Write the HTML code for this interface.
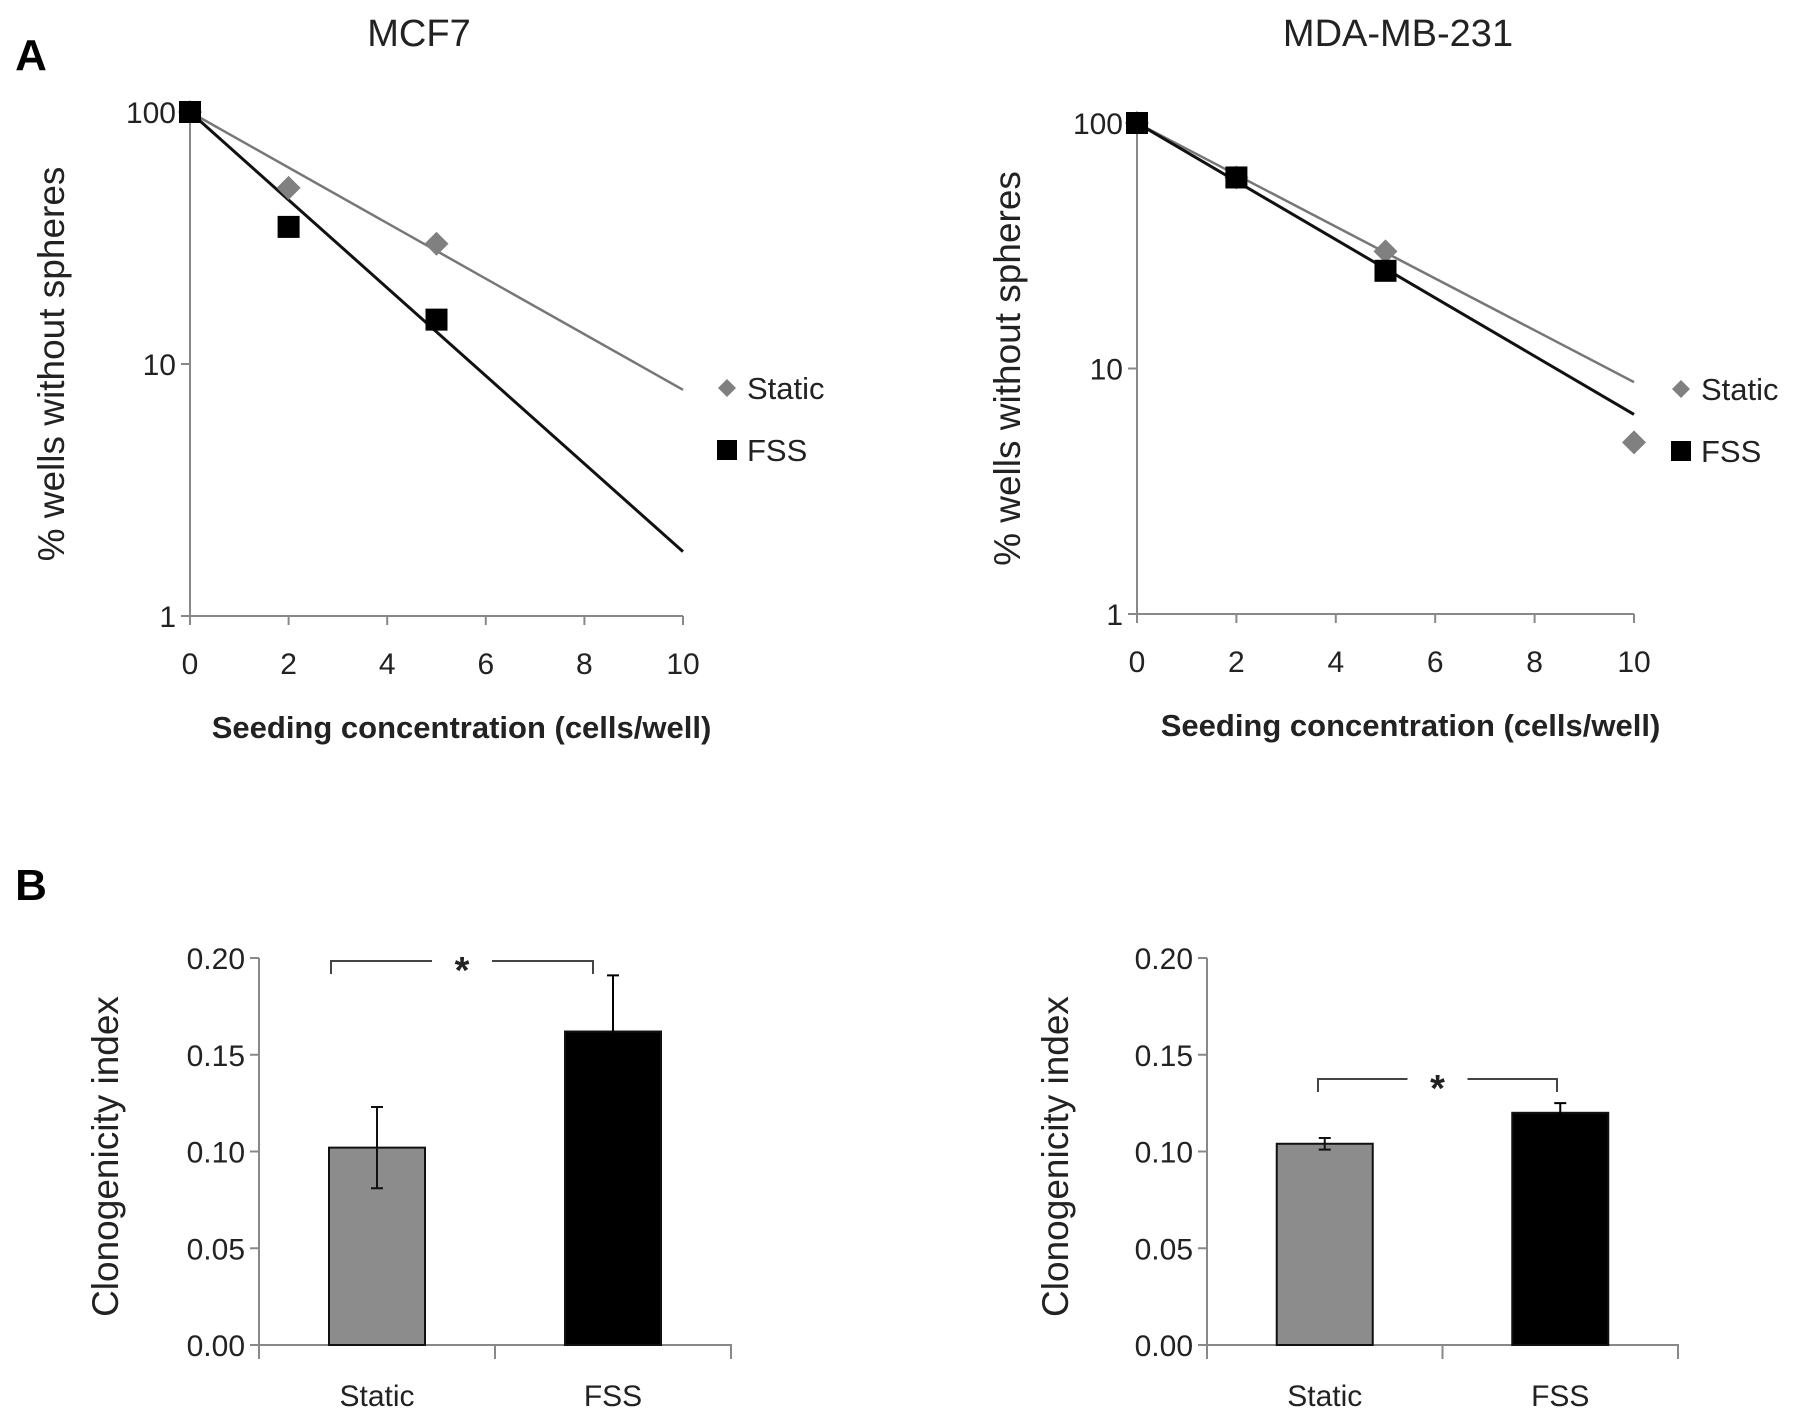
<!DOCTYPE html>
<html><head><meta charset="utf-8"><style>
html,body{margin:0;padding:0;background:#fff;}
svg{display:block;font-family:"Liberation Sans",sans-serif;}
</style></head><body>
<svg id="fig" width="1795" height="1421" viewBox="0 0 1795 1421" xmlns="http://www.w3.org/2000/svg">
<text x="31" y="70" font-size="44" font-weight="bold" text-anchor="middle">A</text>
<text x="31" y="900" font-size="44" font-weight="bold" text-anchor="middle">B</text>
</svg>
<script>
// ---- data ----
const xCats = [0, 2, 5, 10];
const mcfStatic = [100, 50, 30];
const mcfFSS = [100, 35, 15];
const mcfStaticTrend = [100, 7.9];
const mcfFSSTrend = [100, 1.8];
const mdaStatic = [100, 60, 30, 5];
const mdaFSS = [100, 60, 25];
const mdaStaticTrend = [100, 8.8];
const mdaFSSTrend = [100, 6.5];
const xTicks = [0, 2, 4, 6, 8, 10];
const yLogTicks = [1, 10, 100];
const barCats = ["Static", "FSS"];
const mcfBars = [0.102, 0.162];
const mcfErr = [0.021, 0.029];
const mdaBars = [0.104, 0.120];
const mdaErr = [0.003, 0.005];
const barTicks = ["0.00", "0.05", "0.10", "0.15", "0.20"];

const svg = document.getElementById('fig');
const NS = 'http://www.w3.org/2000/svg';
function mk(tag, attrs, parent) {
  const e = document.createElementNS(NS, tag);
  for (const k in attrs) e.setAttribute(k, attrs[k]);
  (parent || svg).appendChild(e);
  return e;
}
function txt(x, y, s, size, extra, parent) {
  const t = mk('text', Object.assign({x: x, y: y, 'font-size': size}, extra || {}), parent);
  t.textContent = s;
  return t;
}

function lineChart(cfg) {
  const g = mk('g', {});
  
  
  const sx = v => cfg.x0 + (cfg.x1 - cfg.x0) * v / 10;
  const sy = v => cfg.y1 - (cfg.y1 - cfg.y100) * Math.log10(v) / 2;
  const t = txt(cfg.titleX, 46, cfg.title, 38, {'text-anchor': 'middle', fill: '#222'}, g);
  
  
  const ax = mk('path', {d: `M${cfg.x0},${sy(100)}V${cfg.y1}H${cfg.x1}`, stroke: '#888', 'stroke-width': 2, fill: 'none'}, g);
  
  
  yLogTicks.forEach(v => {
    mk('line', {x1: cfg.x0 - 9, x2: cfg.x0, y1: sy(v), y2: sy(v), stroke: '#888', 'stroke-width': 2}, g);
    const l = txt(cfg.x0 - 14, sy(v) + 11, String(v), 30, {'text-anchor': 'end', fill: '#222'}, g);
    
    
  });
  xTicks.forEach(v => {
    mk('line', {x1: sx(v), x2: sx(v), y1: cfg.y1, y2: cfg.y1 + 9, stroke: '#888', 'stroke-width': 2}, g);
    const l = txt(sx(v), cfg.y1 + 58, String(v), 30, {'text-anchor': 'middle', fill: '#222'}, g);
    
    
  });
  const xt = txt((cfg.x0 + cfg.x1) / 2 + 25, cfg.y1 + 122, 'Seeding concentration (cells/well)', 31, {'text-anchor': 'middle', 'font-weight': 'bold', fill: '#222'}, g);
  
  
  const ym = (sy(100) + cfg.y1) / 2;
  const yt = txt(cfg.yTitleX, ym, '% wells without spheres', 37, {'text-anchor': 'middle', fill: '#222', transform: `rotate(-90 ${cfg.yTitleX} ${ym})`}, g);
  
  
  const ts = mk('line', {x1: sx(0), y1: sy(cfg.sTrend[0]), x2: sx(10), y2: sy(cfg.sTrend[1]), stroke: '#777', 'stroke-width': 2.5}, g);
  
  
  const tf = mk('line', {x1: sx(0), y1: sy(cfg.fTrend[0]), x2: sx(10), y2: sy(cfg.fTrend[1]), stroke: '#111', 'stroke-width': 3}, g);
  
  
  cfg.sData.forEach((v, i) => {
    const cx = sx(xCats[i]), cy = sy(v), r = 12;
    const p = mk('polygon', {points: `${cx},${cy - r} ${cx + r},${cy} ${cx},${cy + r} ${cx - r},${cy}`, fill: '#808080'}, g);
    
    
  });
  cfg.fData.forEach((v, i) => {
    const cx = sx(xCats[i]), cy = sy(v);
    const p = mk('rect', {x: cx - 11, y: cy - 11, width: 22, height: 22, fill: '#000'}, g);
    
    
  });
  const lg = mk('g', {}, g);
  
  
  const d = cfg.legX, dy = cfg.legY;
  mk('polygon', {points: `${d},${dy - 9} ${d + 9},${dy} ${d},${dy + 9} ${d - 9},${dy}`, fill: '#808080'}, lg);
  txt(d + 20, dy + 11, 'Static', 31, {fill: '#222'}, lg);
  mk('rect', {x: d - 10, y: dy + 52, width: 20, height: 20, fill: '#000'}, lg);
  txt(d + 20, dy + 73, 'FSS', 31, {fill: '#222'}, lg);
}

function barChart(cfg) {
  const g = mk('g', {});
  
  
  const y0 = 1345, y20 = 958;
  const sy = v => y0 - (y0 - y20) * v / 0.2;
  const ax = mk('path', {d: `M${cfg.x0},${y20}V${y0 + 14}M${cfg.x0},${y0}H${cfg.x1}V${y0 + 14}M${(cfg.x0 + cfg.x1) / 2},${y0}V${y0 + 14}`, stroke: '#888', 'stroke-width': 2, fill: 'none'}, g);
  
  
  barTicks.forEach(s => {
    const v = parseFloat(s);
    mk('line', {x1: cfg.x0 - 9, x2: cfg.x0, y1: sy(v), y2: sy(v), stroke: '#888', 'stroke-width': 2}, g);
    const l = txt(cfg.x0 - 14, sy(v) + 11, s, 30, {'text-anchor': 'end', fill: '#222'}, g);
    
    
  });
  const ym = (y0 + y20) / 2 + 5;
  const yt = txt(cfg.yTitleX, ym, 'Clonogenicity index', 37, {'text-anchor': 'middle', fill: '#222', transform: `rotate(-90 ${cfg.yTitleX} ${ym})`}, g);
  
  
  const slot = (cfg.x1 - cfg.x0) / barCats.length;
  const bw = 96;
  barCats.forEach((c, i) => {
    const cx = cfg.x0 + slot * (i + 0.5);
    const v = cfg.vals[i];
    const b = mk('rect', {x: cx - bw / 2, y: sy(v), width: bw, height: y0 - sy(v), fill: i === 0 ? '#8c8c8c' : '#000', stroke: '#111', 'stroke-width': 2}, g);
    
    
    const e = cfg.err[i];
    const eb = mk('path', {d: `M${cx},${sy(v + e)}V${sy(v - e)}M${cx - 6},${sy(v + e)}H${cx + 6}M${cx - 6},${sy(v - e)}H${cx + 6}`, stroke: i === 0 ? '#111' : '#000', 'stroke-width': 2, fill: 'none'}, g);
    
    
    const l = txt(cx, 1406, c, 30, {'text-anchor': 'middle', fill: '#222'}, g);
    
    
  });
  const bl = cfg.brL, br = cfg.brR;
  const by = cfg.brY, mid = (bl + br) / 2;
  const bk = mk('path', {d: `M${bl},${by + 13}V${by}H${mid - 30}M${mid + 30},${by}H${br}V${by + 13}`, stroke: '#444', 'stroke-width': 2, fill: 'none'}, g);
  
  
  const st = txt(mid, by + 22, '*', 38, {'text-anchor': 'middle', 'font-weight': 'bold', fill: '#222'}, g);
  
  
}

lineChart({name: 'mcf7-limiting-dilution-chart', title: 'MCF7', titleX: 419, x0: 190, x1: 683, y100: 112, y1: 616, yTitleX: 64, sData: mcfStatic, fData: mcfFSS, sTrend: mcfStaticTrend, fTrend: mcfFSSTrend, legX: 727, legY: 388});
lineChart({name: 'mda-limiting-dilution-chart', title: 'MDA-MB-231', titleX: 1398, x0: 1137, x1: 1634, y100: 123, y1: 614, yTitleX: 1020, sData: mdaStatic, fData: mdaFSS, sTrend: mdaStaticTrend, fTrend: mdaFSSTrend, legX: 1681, legY: 389});
barChart({name: 'mcf7-clonogenicity-chart', x0: 259, x1: 731, yTitleX: 118, vals: mcfBars, err: mcfErr, brY: 961, brL: 331, brR: 593});
barChart({name: 'mda-clonogenicity-chart', x0: 1207, x1: 1678, yTitleX: 1068, vals: mdaBars, err: mdaErr, brY: 1079, brL: 1318, brR: 1557});
</script>
</body></html>
